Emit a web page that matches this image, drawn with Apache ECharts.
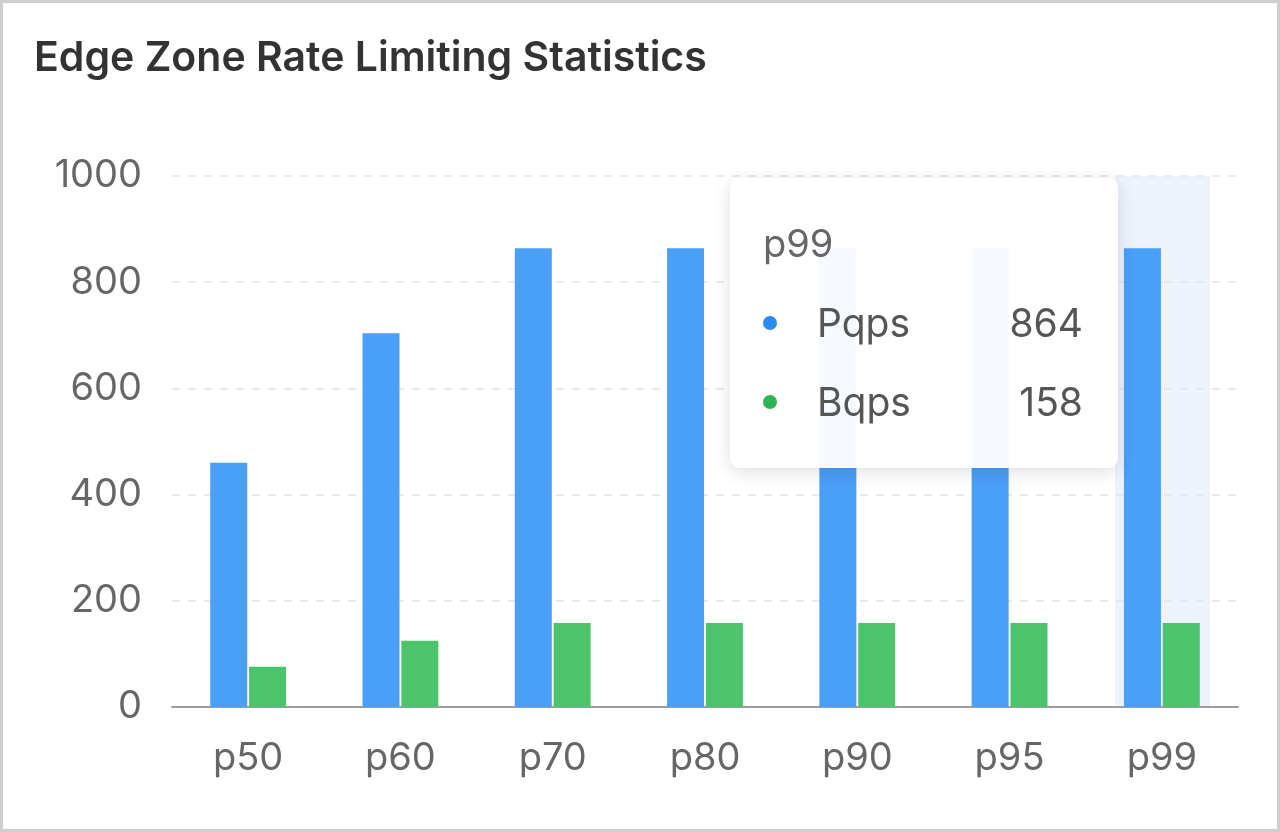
<!DOCTYPE html>
<html>
<head>
<meta charset="utf-8">
<script src="https://cdn.jsdelivr.net/npm/echarts@6/dist/echarts.min.js"></script>
<style>
  html, body { margin: 0; padding: 0; background: #fff; }
  #chart { position: absolute; left: 0; top: 0; width: 1280px; height: 832px; }
  #frame { position: absolute; left: 0; top: 0; width: 1280px; height: 832px; box-sizing: border-box;
           border: 3px solid #cfcfcf; pointer-events: none; z-index: 10000; }
</style>
</head>
<body>
<div id="chart"></div>
<div id="frame"></div>
<script>
const categories = ['p50', 'p60', 'p70', 'p80', 'p90', 'p95', 'p99'];
const pqps = [460, 704, 864, 864, 864, 864, 864];
const bqps = [76, 125, 158, 158, 158, 158, 158];
const seriesNames = ['Pqps', 'Bqps'];
const yTicks = { min: 0, max: 1000, interval: 200 };

const FONT = 'Inter, "Noto Sans", sans-serif';
const barColors = ['#4A9FF8', '#4CC46B'];
const dotColors = ['#2B8AF0', '#2DB552'];

const chart = echarts.init(document.getElementById('chart'));
chart.setOption({
  animation: false,
  title: {
    text: 'Edge Zone Rate Limiting Statistics',
    left: 29, top: 33,
    textStyle: { fontFamily: FONT, fontSize: 41, fontWeight: 600, color: '#333' }
  },
  grid: { left: 172, right: 42, top: 176, bottom: 125 },
  tooltip: {
    trigger: 'axis',
    alwaysShowContent: true,
    transitionDuration: 0,
    showDelay: 0,
    position: function () { return [730, 178]; },
    backgroundColor: 'rgba(255,255,255,0.95)',
    borderWidth: 0,
    padding: 0,
    extraCssText: 'box-shadow: 0 4px 18px rgba(0,0,0,0.13); border-radius: 10px;',
    axisPointer: {
      type: 'line',
      z: 0,
      lineStyle: { color: 'rgba(226,234,246,0.6)', width: 95, type: 'solid' }
    },
    formatter: function (params) {
      let html = '<div style="width:388px;height:290px;box-sizing:border-box;padding:42px 35px 0 33px;font-family:' + FONT.replace(/"/g, "'") + ';">';
      html += '<div style="font-size:38px;color:#666;line-height:46px;height:46px;">' + params[0].name + '</div>';
      params.forEach(function (p, i) {
        html += '<div style="display:flex;align-items:center;height:46px;line-height:46px;margin-top:' + (i === 0 ? 34 : 33) + 'px;font-size:39px;color:#555;">' +
          '<span style="display:inline-block;width:14px;height:14px;border-radius:50%;background:' + dotColors[p.seriesIndex] + ';margin-right:40px;"></span>' +
          '<span style="flex:1;">' + p.seriesName + '</span>' +
          '<span>' + p.value + '</span></div>';
      });
      html += '</div>';
      return html;
    }
  },
  xAxis: {
    type: 'category',
    data: categories,
    axisLine: { lineStyle: { color: '#9e9e9e', width: 2 } },
    axisTick: { alignWithLabel: true, length: 9, lineStyle: { color: '#b5b5b5', width: 1 } },
    axisLabel: { fontFamily: FONT, fontSize: 38, color: '#666', margin: 33 }
  },
  yAxis: {
    type: 'value',
    min: yTicks.min, max: yTicks.max, interval: yTicks.interval,
    axisLine: { show: false },
    axisTick: { show: false },
    axisLabel: { fontFamily: FONT, fontSize: 38, color: '#666', margin: 30, formatter: function (v) { return String(v); } },
    splitLine: { lineStyle: { color: '#e3e3e3', type: [8, 8], width: 1.5 } }
  },
  series: [
    { name: seriesNames[0], type: 'bar', z: 100, data: pqps, barWidth: 37, barGap: '5%',
      itemStyle: { color: barColors[0] }, emphasis: { disabled: true } },
    { name: seriesNames[1], type: 'bar', z: 100, data: bqps, barWidth: 37, barGap: '5%',
      itemStyle: { color: barColors[1] }, emphasis: { disabled: true } }
  ]
});
chart.dispatchAction({ type: 'showTip', seriesIndex: 0, dataIndex: 6 });
</script>
</body>
</html>
